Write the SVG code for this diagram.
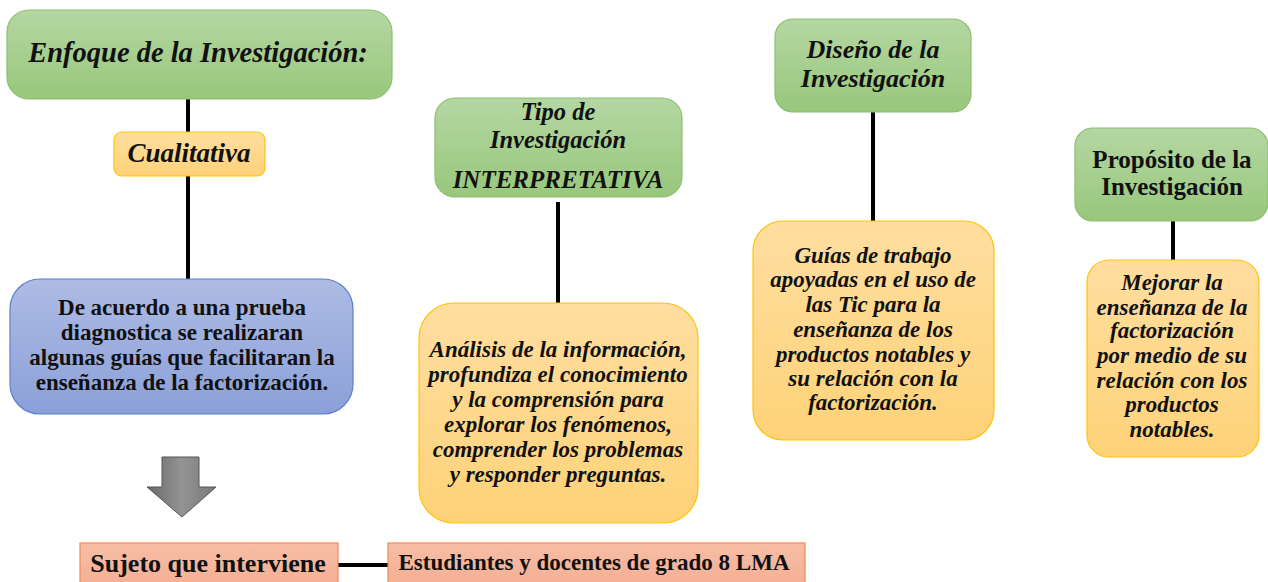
<svg xmlns="http://www.w3.org/2000/svg" width="1268" height="582" viewBox="0 0 1268 582">
<defs>
<linearGradient id="gGreen" x1="0" y1="0" x2="0" y2="1"><stop offset="0" stop-color="#b5d7a3"/><stop offset="1" stop-color="#98c77c"/></linearGradient>
<linearGradient id="gYellow" x1="0" y1="0" x2="0" y2="1"><stop offset="0" stop-color="#ffdea0"/><stop offset="1" stop-color="#fed278"/></linearGradient>
<linearGradient id="gBlue" x1="0" y1="0" x2="0" y2="1"><stop offset="0" stop-color="#aebce4"/><stop offset="1" stop-color="#8ba0d8"/></linearGradient>
<linearGradient id="gOrange" x1="0" y1="0" x2="0" y2="1"><stop offset="0" stop-color="#f7bea6"/><stop offset="1" stop-color="#f4ae92"/></linearGradient>
<linearGradient id="gGray" x1="0" y1="0" x2="1" y2="0"><stop offset="0" stop-color="#6a6a6a"/><stop offset="0.5" stop-color="#939393"/><stop offset="1" stop-color="#7a7a7a"/></linearGradient>
<style>
.green{fill:url(#gGreen);stroke:#8cbf6e;stroke-width:1.2}
.yellow{fill:url(#gYellow);stroke:#ffc20e;stroke-width:1.2}
.blue{fill:url(#gBlue);stroke:#5b7fcc;stroke-width:1.2}
.orange{fill:url(#gOrange);stroke:#ed8a55;stroke-width:1.2}
.conn line{stroke:#000;stroke-width:4}
</style>
</defs>

<g class="conn" id="connectors">
<line x1="188" y1="99" x2="188" y2="133"/>
<line x1="188" y1="176" x2="188" y2="281"/>
<line x1="558" y1="202" x2="558" y2="304"/>
<line x1="873" y1="112" x2="873" y2="222"/>
<line x1="1173" y1="221" x2="1173" y2="261"/>
<line x1="338" y1="565" x2="388" y2="565"/>
<path d="M162,457 H199 V487 H216 L182,517 L147,487 H162 Z" fill="url(#gGray)" stroke="#555" stroke-width="1"/>
</g>

<g id="enfoque">
<rect class="green" x="7" y="10" width="385" height="89" rx="22"/>
<text x="198" y="62" font-family="Liberation Serif" font-weight="bold" font-style="italic" font-size="28.5" text-anchor="middle" fill="#111">Enfoque de la Investigación:</text>
</g>

<g id="cualitativa">
<rect class="yellow" x="114" y="132" width="151" height="44" rx="8"/>
<text x="189" y="162" font-family="Liberation Serif" font-weight="bold" font-style="italic" font-size="27" text-anchor="middle" fill="#111">Cualitativa</text>
</g>

<g id="prueba">
<rect class="blue" x="10" y="279" width="343" height="135" rx="30"/>
<text x="182" y="315" font-family="Liberation Serif" font-weight="bold" font-size="23" text-anchor="middle" fill="#111">De acuerdo a una prueba</text>
<text x="182" y="340" font-family="Liberation Serif" font-weight="bold" font-size="23" text-anchor="middle" fill="#111">diagnostica se realizaran</text>
<text x="182" y="365" font-family="Liberation Serif" font-weight="bold" font-size="23" text-anchor="middle" fill="#111">algunas guías que facilitaran la</text>
<text x="182" y="390" font-family="Liberation Serif" font-weight="bold" font-size="23" text-anchor="middle" fill="#111">enseñanza de la factorización.</text>
</g>

<g id="sujeto">
<rect class="orange" x="80" y="543" width="258" height="45"/>
<text x="208" y="572" font-family="Liberation Serif" font-weight="bold" font-size="26" text-anchor="middle" fill="#111">Sujeto que interviene</text>
</g>

<g id="estudiantes">
<rect class="orange" x="388" y="543" width="417" height="45"/>
<text x="594" y="570" font-family="Liberation Serif" font-weight="bold" font-size="23" text-anchor="middle" fill="#111">Estudiantes y docentes de grado 8 LMA</text>
</g>

<g id="tipo">
<rect class="green" x="435" y="98" width="247" height="99" rx="20"/>
<text x="558" y="120" font-family="Liberation Serif" font-weight="bold" font-style="italic" font-size="24.5" text-anchor="middle" fill="#111">Tipo de</text>
<text x="558" y="148" font-family="Liberation Serif" font-weight="bold" font-style="italic" font-size="24.5" text-anchor="middle" fill="#111">Investigación</text>
<text x="558" y="188" font-family="Liberation Serif" font-weight="bold" font-style="italic" font-size="25" text-anchor="middle" fill="#111">INTERPRETATIVA</text>
</g>

<g id="analisis">
<rect class="yellow" x="419" y="303" width="279" height="220" rx="35"/>
<text x="558" y="357" font-family="Liberation Serif" font-weight="bold" font-style="italic" font-size="23" text-anchor="middle" fill="#111">Análisis de la información,</text>
<text x="558" y="382" font-family="Liberation Serif" font-weight="bold" font-style="italic" font-size="23" text-anchor="middle" fill="#111">profundiza el conocimiento</text>
<text x="558" y="407" font-family="Liberation Serif" font-weight="bold" font-style="italic" font-size="23" text-anchor="middle" fill="#111">y la comprensión para</text>
<text x="558" y="432" font-family="Liberation Serif" font-weight="bold" font-style="italic" font-size="23" text-anchor="middle" fill="#111">explorar los fenómenos,</text>
<text x="558" y="457" font-family="Liberation Serif" font-weight="bold" font-style="italic" font-size="23" text-anchor="middle" fill="#111">comprender los problemas</text>
<text x="558" y="482" font-family="Liberation Serif" font-weight="bold" font-style="italic" font-size="23" text-anchor="middle" fill="#111">y responder preguntas.</text>
</g>

<g id="diseno">
<rect class="green" x="775" y="19" width="196" height="93" rx="18"/>
<text x="873" y="58" font-family="Liberation Serif" font-weight="bold" font-style="italic" font-size="26" text-anchor="middle" fill="#111">Diseño de la</text>
<text x="873" y="87" font-family="Liberation Serif" font-weight="bold" font-style="italic" font-size="26" text-anchor="middle" fill="#111">Investigación</text>
</g>

<g id="guias">
<rect class="yellow" x="753" y="221" width="241" height="219" rx="30"/>
<text x="873" y="263" font-family="Liberation Serif" font-weight="bold" font-style="italic" font-size="23" text-anchor="middle" fill="#111">Guías de trabajo</text>
<text x="873" y="287" font-family="Liberation Serif" font-weight="bold" font-style="italic" font-size="23" text-anchor="middle" fill="#111">apoyadas en el uso de</text>
<text x="873" y="312" font-family="Liberation Serif" font-weight="bold" font-style="italic" font-size="23" text-anchor="middle" fill="#111">las Tic para la</text>
<text x="873" y="337" font-family="Liberation Serif" font-weight="bold" font-style="italic" font-size="23" text-anchor="middle" fill="#111">enseñanza de los</text>
<text x="873" y="362" font-family="Liberation Serif" font-weight="bold" font-style="italic" font-size="23" text-anchor="middle" fill="#111">productos notables y</text>
<text x="873" y="386" font-family="Liberation Serif" font-weight="bold" font-style="italic" font-size="23" text-anchor="middle" fill="#111">su relación con la</text>
<text x="873" y="410" font-family="Liberation Serif" font-weight="bold" font-style="italic" font-size="23" text-anchor="middle" fill="#111">factorización.</text>
</g>

<g id="proposito">
<rect class="green" x="1075" y="128" width="193" height="93" rx="18"/>
<text x="1172" y="168" font-family="Liberation Serif" font-weight="bold" font-size="25" text-anchor="middle" fill="#111">Propósito de la</text>
<text x="1172" y="195" font-family="Liberation Serif" font-weight="bold" font-size="25" text-anchor="middle" fill="#111">Investigación</text>
</g>

<g id="mejorar">
<rect class="yellow" x="1087" y="260" width="172" height="197" rx="22"/>
<text x="1172" y="290" font-family="Liberation Serif" font-weight="bold" font-style="italic" font-size="23" text-anchor="middle" fill="#111">Mejorar la</text>
<text x="1172" y="315" font-family="Liberation Serif" font-weight="bold" font-style="italic" font-size="23" text-anchor="middle" fill="#111">enseñanza de la</text>
<text x="1172" y="338" font-family="Liberation Serif" font-weight="bold" font-style="italic" font-size="23" text-anchor="middle" fill="#111">factorización</text>
<text x="1172" y="363" font-family="Liberation Serif" font-weight="bold" font-style="italic" font-size="23" text-anchor="middle" fill="#111">por medio de su</text>
<text x="1172" y="388" font-family="Liberation Serif" font-weight="bold" font-style="italic" font-size="23" text-anchor="middle" fill="#111">relación con los</text>
<text x="1172" y="412" font-family="Liberation Serif" font-weight="bold" font-style="italic" font-size="23" text-anchor="middle" fill="#111">productos</text>
<text x="1172" y="437" font-family="Liberation Serif" font-weight="bold" font-style="italic" font-size="23" text-anchor="middle" fill="#111">notables.</text>
</g>
</svg>
